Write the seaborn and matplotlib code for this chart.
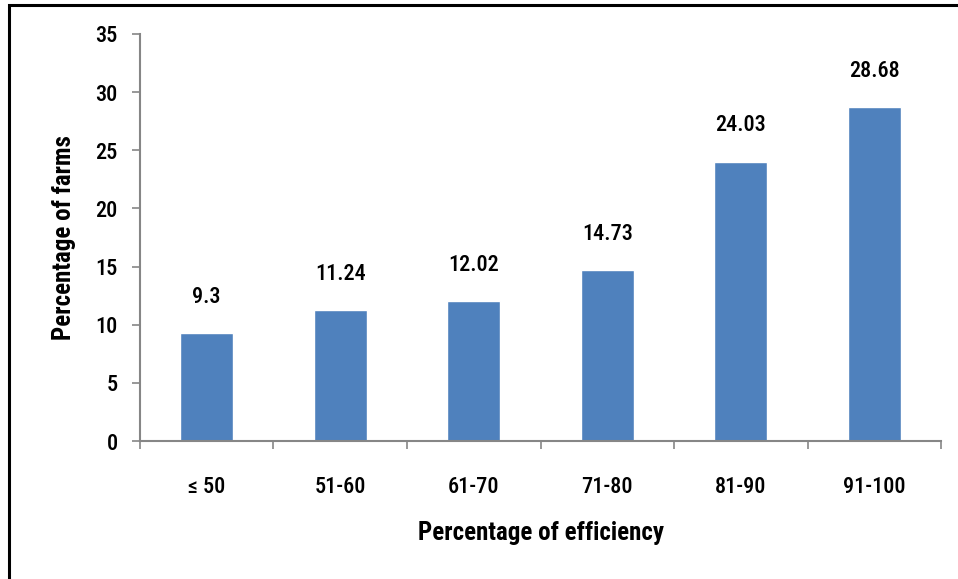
import matplotlib
matplotlib.use("Agg")
import matplotlib.pyplot as plt
import seaborn as sns
import pandas as pd
from matplotlib.patches import Rectangle

categories = ["\u2264 50", "51-60", "61-70", "71-80", "81-90", "91-100"]
values = [9.3, 11.24, 12.02, 14.73, 24.03, 28.68]
yticks = [0, 5, 10, 15, 20, 25, 30, 35]

sns.set_style("white")
plt.rcParams['font.family'] = ['Roboto Condensed', 'DejaVu Sans']
plt.rcParams['text.color'] = 'black'
plt.rcParams['axes.labelcolor'] = 'black'
plt.rcParams['xtick.color'] = 'black'
plt.rcParams['ytick.color'] = 'black'

TICK_FS = 16
df = pd.DataFrame({"cat": categories, "val": values})

fig = plt.figure(figsize=(9.58, 5.79), dpi=100)
ax = fig.add_axes([0.1461, 0.2383, 0.9823 - 0.1461, 0.9413 - 0.2383])
sns.barplot(data=df, x="cat", y="val", color="#4F81BD", width=0.4,
            saturation=1, ax=ax)

ax.set_xlim(-0.5, 5.5)
ax.set_ylim(0, 35)
ax.set_yticks(yticks)
ax.set_yticklabels([str(t) for t in yticks], fontsize=TICK_FS, fontweight="medium")
ax.tick_params(axis='y', which='both', left=True, length=6, width=1.2,
               color="#868686", labelcolor="black", pad=10)
ax.set_xticks([i - 0.5 for i in range(len(categories) + 1)], minor=False)
ax.set_xticklabels([])
ax.set_xticks(range(len(categories)), minor=True)
ax.set_xticklabels(categories, minor=True, fontsize=TICK_FS, fontweight="medium")
ax.tick_params(axis='x', which='major', bottom=True, length=6, width=1.2,
               color="#868686")
ax.tick_params(axis='x', which='minor', bottom=False, length=0, pad=25,
               labelcolor="black")

for s in ["top", "right"]:
    ax.spines[s].set_visible(False)
for s in ["left", "bottom"]:
    ax.spines[s].set_color("#868686")
    ax.spines[s].set_linewidth(1.5)

for i, v in enumerate(values):
    ax.annotate(f"{v:g}", (i, v), xytext=(0, 26), textcoords="offset points",
                ha="center", va="center", fontsize=TICK_FS, fontweight="medium",
                color="black")

ax.set_xlabel("Percentage of efficiency", fontsize=18, fontweight="bold",
              labelpad=17, color="black")
ax.set_ylabel("Percentage of farms", fontsize=18, fontweight="bold",
              labelpad=14, color="black")

fig.patches.append(Rectangle((9 / 958, -0.1), 1.2, 1 - 5 / 579 + 0.1,
                             transform=fig.transFigure, fill=False,
                             edgecolor="black", linewidth=2.2))

fig.savefig("out.png", dpi=100)
